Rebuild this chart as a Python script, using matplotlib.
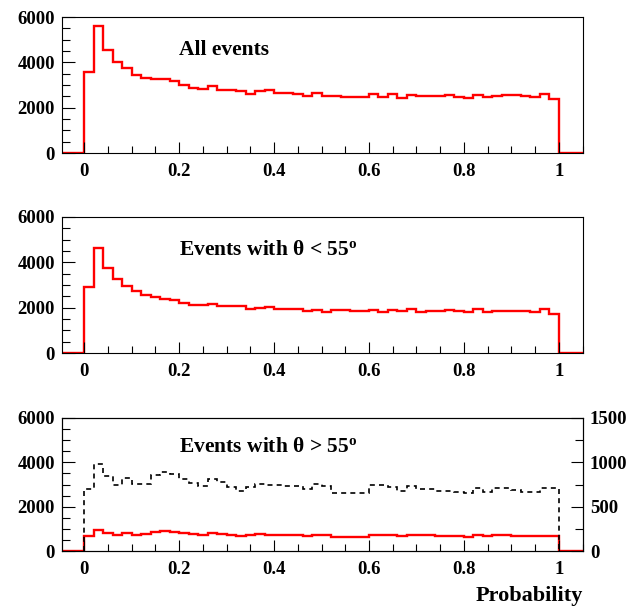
import numpy as np
import matplotlib
matplotlib.use('Agg')
import matplotlib.pyplot as plt
from matplotlib.ticker import MultipleLocator

# ROOT-like look: bold Times-style text, ticks inside
matplotlib.rcParams.update({
    'font.family': 'Liberation Serif',
    'font.weight': 'bold',
    'axes.labelweight': 'bold',
    'mathtext.fontset': 'custom',
    'mathtext.rm': 'Liberation Serif:bold',
    'mathtext.bf': 'Liberation Serif:bold',
    'mathtext.it': 'Liberation Serif:bold',
    'axes.linewidth': 0.8,
})

# 50 bins of probability between 0 and 1
edges = np.linspace(0, 1, 51)

all_events = [3570, 5600, 4545, 4000, 3735, 3440, 3310, 3280, 3250, 3176,
              3000, 2853, 2840, 2940, 2794, 2794, 2735, 2618, 2720, 2765,
              2632, 2647, 2618, 2530, 2632, 2500, 2500, 2470, 2470, 2470,
              2590, 2485, 2590, 2440, 2573, 2530, 2530, 2500, 2544, 2485,
              2440, 2544, 2485, 2500, 2544, 2560, 2500, 2455, 2590, 2380]

theta_lt55 = [2897, 4647, 3735, 3265, 2941, 2735, 2573, 2456, 2397, 2353,
              2220, 2118, 2132, 2147, 2059, 2088, 2059, 1941, 1985, 2044,
              1926, 1941, 1926, 1868, 1912, 1794, 1882, 1882, 1868, 1868,
              1912, 1794, 1882, 1838, 1926, 1809, 1853, 1853, 1882, 1853,
              1824, 1941, 1809, 1853, 1853, 1868, 1853, 1809, 1941, 1720]

theta_gt55 = [690, 960, 825, 720, 795, 735, 750, 870, 900, 870,
              825, 780, 735, 825, 780, 720, 660, 720, 765, 735,
              720, 725, 720, 690, 740, 720, 640, 630, 630, 640,
              735, 725, 720, 680, 725, 700, 700, 690, 680, 660,
              630, 700, 665, 700, 700, 690, 670, 670, 690, 690]

# same selection on the right-hand scale
theta_gt55_right = [697, 986, 844, 742, 825, 757, 757, 862, 889, 866,
                    817, 769, 731, 814, 776, 724, 679, 724, 757, 742,
                    742, 731, 735, 701, 757, 731, 656, 656, 656, 656,
                    750, 742, 724, 675, 735, 697, 697, 679, 679, 664,
                    656, 705, 667, 705, 712, 686, 667, 667, 709, 709]

x_ticks = [0, 0.2, 0.4, 0.6, 0.8, 1]
x_labels = ['0', '0.2', '0.4', '0.6', '0.8', '1']
y_ticks = [0, 2000, 4000, 6000]
y2_ticks = [0, 500, 1000, 1500]

xmin, xmax = -0.047, 1.051

fig = plt.figure(figsize=(6.29, 6.09), dpi=100)
left, width = 62/629, 521/629
ax1 = fig.add_axes([left, 1 - 153/609, width, 136/609])
ax2 = fig.add_axes([left, 1 - 353/609, width, 136/609])
ax3 = fig.add_axes([left, 1 - 551/609, width, 133/609])


def style(ax):
    ax.set_xlim(xmin, xmax)
    ax.set_ylim(0, 6000)
    ax.set_xticks(x_ticks)
    ax.set_xticklabels(x_labels)
    ax.set_yticks(y_ticks)
    ax.xaxis.set_minor_locator(MultipleLocator(0.05))
    ax.yaxis.set_minor_locator(MultipleLocator(500))
    ax.tick_params(which='both', direction='in', top=False, right=False,
                   labelsize=13.5, width=0.8)
    ax.tick_params(axis='x', which='major', length=8, pad=7)
    ax.tick_params(axis='x', which='minor', length=5)
    ax.tick_params(axis='y', which='major', length=9, pad=5)
    ax.tick_params(axis='y', which='minor', length=6)


def red_hist(ax, vals):
    padded = np.r_[0, vals, 0]
    padded_edges = np.r_[xmin, edges, xmax]
    ax.stairs(padded, padded_edges, color='red', lw=1.7, baseline=None)


for ax in (ax1, ax2, ax3):
    style(ax)

red_hist(ax1, all_events)
ax1.text(0.2, 4550, 'All events', fontsize=15.5, va='center')

red_hist(ax2, theta_lt55)
ax2.text(0.2, 4550, 'Events with θ < 55$^{\\mathbf{o}}$', fontsize=15.5, va='center')

ax3r = ax3.twinx()
ax3r.set_ylim(0, 1500)
ax3r.set_yticks(y2_ticks)
ax3r.yaxis.set_minor_locator(MultipleLocator(250))
ax3r.tick_params(which='both', direction='in', labelsize=13.5, width=0.8)
ax3r.tick_params(axis='y', which='major', length=9, pad=5)
ax3r.tick_params(axis='y', which='minor', length=6)
ax3r.stairs(theta_gt55_right, edges, color='black', lw=1.2,
            linestyle=(0, (3, 2.5)), baseline=0)
red_hist(ax3, theta_gt55)
ax3.text(0.2, 4700, 'Events with θ > 55$^{\\mathbf{o}}$', fontsize=15.5, va='center')
ax3.set_xlabel('Probability', fontsize=16, loc='right', labelpad=6)

fig.savefig('out.png', dpi=100)
